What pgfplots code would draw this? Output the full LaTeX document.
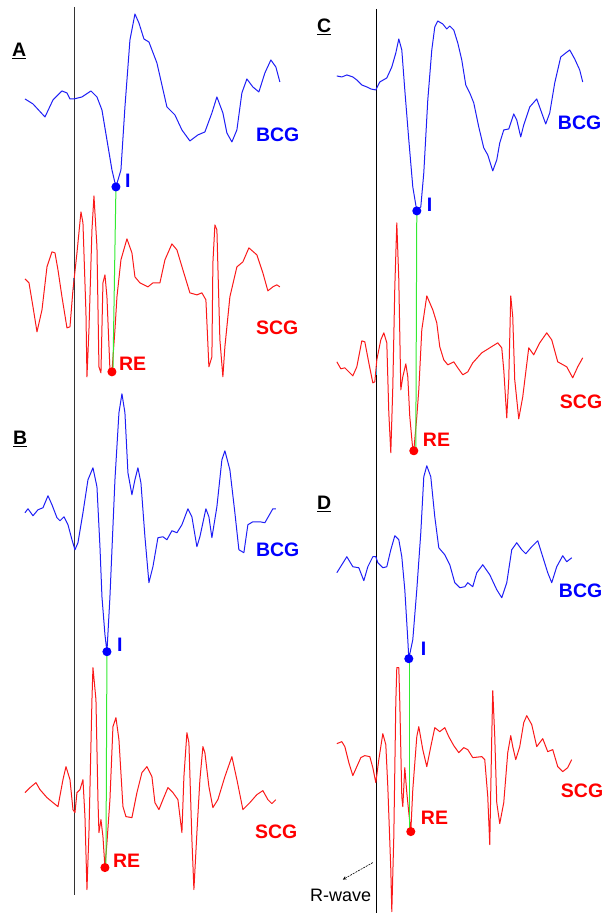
\documentclass[border=0pt]{standalone}
\usepackage{pgfplots}
\pgfplotsset{compat=1.18}
\usepackage{fontspec}
\setmainfont{Liberation Sans}
\definecolor{bcg}{RGB}{30,30,245}
\definecolor{scg}{RGB}{250,25,25}
\definecolor{lgreen}{RGB}{50,235,50}
\definecolor{lblue}{RGB}{0,0,255}
\definecolor{lred}{RGB}{255,0,0}
\tikzset{lbl/.style={anchor=base west, inner sep=0pt, font=\fontsize{19.5}{19.5}\selectfont\bfseries}}
\begin{document}
\begin{tikzpicture}
\begin{axis}[
  width=605pt, height=913pt, scale only axis,
  xmin=0, xmax=605, ymin=0, ymax=913, y dir=reverse,
  hide axis, clip=false,
  every axis plot/.append style={line width=1pt, line join=round},
]
\addplot[draw=none] coordinates {(0,0) (605,913)};
% vertical reference lines
\addplot[black!80, line width=0.9pt] coordinates {(74,7) (74,895)};
\addplot[black, line width=0.9pt] coordinates {(376.5,9) (376.5,913)};
\addplot[cyan, line width=1pt] coordinates {(74,278) (74,290)};
\addplot[cyan, line width=1pt] coordinates {(376.5,367) (376.5,375)};
% ---------- A BCG
\addplot[bcg] coordinates {
(25,99)(33,104)(45,117)(53,100)(62,91)(67,93)(70,99)(74,99)(82,97)(91,91)(97,97)(102,110)
(107,140)(112,170)(116,187)(121,170)(125,107)(130,40)(135,14)(139,23)(144,39)(149,42)
(157,63)(167,107)(175,115)(182,130)(190,141)(198,135)(205,132)(212,113)(217,97)(223,113)
(227,133)(232,142)(237,130)(242,93)(247,79)(253,87)(259,92)(265,73)(271,60)(276,67)(280,82)};
% ---------- A SCG
\addplot[scg] coordinates {
(25,279)(29,283)(33,307)(37,332)(42,310)(47,267)(52,252)(55,253)(58,270)(62,297)(67,328)
(70,327)(73,290)(77,253)(81,212)(83,223)(86,313)(87,377)(89,330)(92,230)(94,196)(97,247)
(99,367)(101,373)(103,283)(105,275)(107,297)(110,370)(112,372)(115,330)(117,297)(121,260)
(127,239)(132,253)(135,277)(140,283)(148,287)(153,283)(160,283)(165,260)(172,244)(177,250)
(183,270)(190,293)(197,295)(202,293)(206,300)(209,367)(212,357)(213,263)(215,225)(217,230)
(220,340)(223,377)(225,347)(230,297)(237,267)(243,262)(249,248)(257,255)(263,273)(268,291)
(273,287)(277,285)(280,287)};
\addplot[lgreen] coordinates {(116,187) (113,371)};
\addplot[only marks, mark=*, mark size=4pt, lblue] coordinates {(116,187)};
\addplot[only marks, mark=*, mark size=4pt, lred] coordinates {(112,372)};
\node[lbl] at (axis cs:12,57) {\underline{A}};
\node[lbl, lblue] at (axis cs:125,188) {I};
\node[lbl, lblue] at (axis cs:256,142) {BCG};
\node[lbl, lred] at (axis cs:119,371) {RE};
\node[lbl, lred] at (axis cs:256,335) {SCG};
% ---------- B BCG
\addplot[bcg] coordinates {
(25,513)(28,509)(33,516)(38,510)(43,508)(48,496)(52,505)(57,518)(60,521)(64,517)(68,525)
(72,540)(75,550)(78,543)(83,513)(88,480)(93,468)(97,487)(100,547)(102,597)(105,635)(107,652)
(110,597)(115,480)(119,413)(122,394)(125,413)(128,473)(132,495)(135,480)(138,468)(141,483)
(145,537)(149,583)(153,567)(158,538)(163,537)(167,540)(172,531)(177,533)(182,525)(188,509)
(192,517)(197,547)(200,537)(206,509)(209,517)(212,538)(217,507)(222,460)(225,451)(230,470)
(235,513)(239,550)(244,553)(248,525)(253,522)(260,522)(265,523)(269,516)(273,509)(276,509)};
% ---------- B SCG
\addplot[scg] coordinates {
(25,793)(30,788)(36,783)(40,790)(47,798)(53,803)(58,807)(63,780)(66,767)(70,780)(73,810)
(75,813)(77,793)(80,790)(83,780)(85,817)(87,890)(89,833)(92,700)(93,668)(96,700)(98,800)
(99,833)(101,820)(103,837)(105,868)(107,843)(110,800)(113,727)(116,718)(119,740)(123,807)
(126,817)(132,818)(137,793)(142,773)(147,767)(152,777)(155,803)(159,810)(163,800)(168,788)
(173,793)(178,800)(182,833)(184,777)(187,733)(189,743)(192,840)(194,890)(197,833)(200,780)
(203,747)(205,753)(209,787)(213,808)(218,800)(225,777)(232,757)(237,780)(243,810)(250,803)
(257,795)(263,791)(268,800)(272,804)(276,800)};
\addplot[lgreen] coordinates {(107,652) (106,866)};
\addplot[only marks, mark=*, mark size=4pt, lblue] coordinates {(107,652)};
\addplot[only marks, mark=*, mark size=4pt, lred] coordinates {(105,868)};
\node[lbl] at (axis cs:13,445) {\underline{B}};
\node[lbl, lblue] at (axis cs:117,652) {I};
\node[lbl, lblue] at (axis cs:256,557) {BCG};
\node[lbl, lred] at (axis cs:113,868) {RE};
\node[lbl, lred] at (axis cs:255,839) {SCG};
% ---------- C BCG
\addplot[bcg] coordinates {
(337,76)(342,77)(347,75)(353,77)(357,80)(362,85)(367,87)(371,89)(376,90)(380,82)(387,78)
(392,67)(396,53)(399,39)(402,50)(405,90)(409,140)(413,187)(417,211)(421,207)(424,173)
(428,100)(432,50)(435,27)(438,21)(443,24)(447,29)(450,26)(454,30)(458,43)(462,60)(466,85)
(470,93)(474,103)(479,127)(484,148)(488,155)(493,171)(497,160)(500,143)(504,130)(509,129)
(514,114)(517,120)(521,137)(524,125)(530,107)(537,99)(542,113)(546,124)(550,113)(555,83)
(561,57)(566,53)(570,50)(575,59)(580,70)(583,82)};
% ---------- C SCG
\addplot[scg] coordinates {
(337,362)(341,369)(345,368)(349,372)(353,376)(357,367)(362,341)(365,342)(369,363)(373,383)
(375,382)(377,360)(381,340)(384,333)(387,343)(389,413)(391,453)(393,387)(395,287)(397,223)
(399,280)(401,390)(403,377)(406,364)(408,377)(410,417)(413,450)(414,451)(417,417)(419,390)
(422,330)(427,296)(433,310)(437,323)(440,347)(444,360)(448,365)(454,362)(458,368)(463,375)
(468,372)(473,363)(482,353)(490,348)(498,343)(502,348)(504,370)(507,418)(509,380)(511,296)
(513,317)(515,380)(519,419)(523,397)(529,348)(534,355)(540,343)(547,333)(552,340)(558,362)
(567,367)(573,378)(578,367)(583,358)};
\addplot[lgreen] coordinates {(417,211) (416,450)};
\addplot[only marks, mark=*, mark size=4pt, lblue] coordinates {(417,211)};
\addplot[only marks, mark=*, mark size=4pt, lred] coordinates {(414,451)};
\node[lbl] at (axis cs:317,33) {\underline{C}};
\node[lbl, lblue] at (axis cs:427,212) {I};
\node[lbl, lblue] at (axis cs:558,130) {BCG};
\node[lbl, lred] at (axis cs:423,447) {RE};
\node[lbl, lred] at (axis cs:560,409) {SCG};
% ---------- D BCG
\addplot[bcg] coordinates {
(337,573)(342,565)(347,557)(353,567)(359,568)(364,581)(368,567)(373,557)(376,557)(378,563)
(383,568)(387,567)(391,550)(395,536)(399,540)(402,557)(405,590)(408,640)(409,659)(413,640)
(417,590)(421,533)(424,477)(427,466)(431,477)(435,517)(439,548)(445,555)(450,565)(455,583)
(460,588)(465,587)(468,583)(473,587)(477,573)(483,565)(490,575)(497,590)(502,598)(507,583)
(512,550)(517,543)(522,550)(526,554)(532,547)(538,541)(543,557)(548,573)(552,583)(557,567)
(563,556)(567,562)(572,558)};
% ---------- D SCG
\addplot[scg] coordinates {
(337,744)(342,742)(345,747)(349,763)(353,776)(357,767)(361,758)(365,756)(370,757)(373,768)
(376,783)(379,760)(383,734)(386,745)(388,787)(391,870)(392,912)(394,837)(396,703)(397,668)
(399,668)(400,703)(402,797)(403,807)(405,768)(407,793)(409,813)(411,832)(413,790)(417,737)
(419,727)(423,750)(427,767)(431,747)(435,728)(440,732)(445,728)(449,737)(454,746)(459,753)
(464,748)(468,750)(473,758)(482,757)(485,760)(488,797)(490,845)(492,737)(493,691)(495,737)
(497,803)(500,824)(504,803)(508,753)(511,736)(513,747)(516,760)(520,747)(524,723)(527,716)
(532,725)(537,747)(543,739)(548,752)(553,750)(558,767)(563,772)(568,768)(572,760)};
\addplot[lgreen] coordinates {(410,659) (410,831)};
\addplot[only marks, mark=*, mark size=4pt, lblue] coordinates {(409,659)};
\addplot[only marks, mark=*, mark size=4pt, lred] coordinates {(411,832)};
\node[lbl] at (axis cs:317,510) {\underline{D}};
\node[lbl, lblue] at (axis cs:421,656) {I};
\node[lbl, lblue] at (axis cs:559,598) {BCG};
\node[lbl, lred] at (axis cs:421,825) {RE};
\node[lbl, lred] at (axis cs:561,798) {SCG};
% R-wave annotation
\addplot[black, line width=0.6pt, dash pattern=on 2pt off 1pt, -stealth] coordinates {(373,863) (343,880)};
\node[anchor=base west, inner sep=0pt, font=\fontsize{18}{18}\selectfont] at (axis cs:310,902) {R-wave};
\end{axis}
\end{tikzpicture}
\end{document}
